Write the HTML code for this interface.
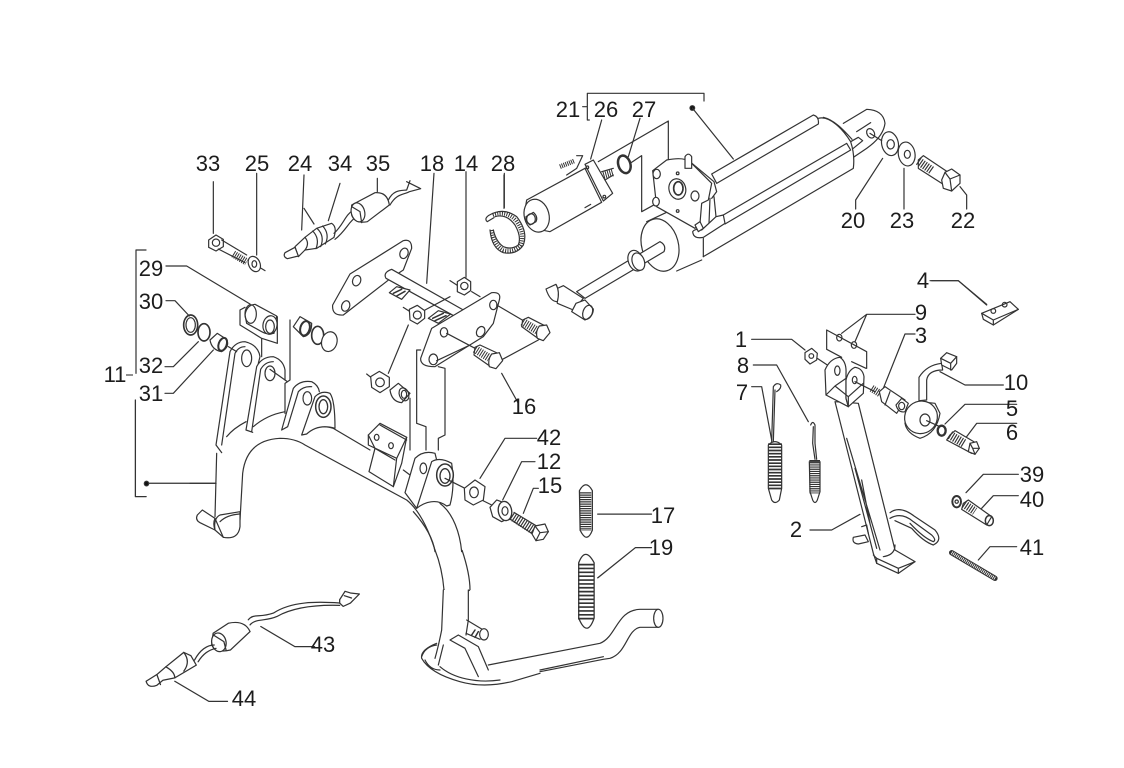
<!DOCTYPE html>
<html><head><meta charset="utf-8"><style>
html,body{margin:0;padding:0;background:#fff}
svg{display:block;filter:blur(.3px)}
text{font-family:"Liberation Sans",sans-serif;font-size:22px;fill:#1c1c1c;text-anchor:middle}
.g{fill:none;stroke:#333;stroke-width:3.6;stroke-linejoin:round;stroke-linecap:round}
.f{fill:#fff}
.h{stroke-linecap:butt}
</style></head><body>
<svg width="1124" height="768" viewBox="0 0 1124 768" xmlns="http://www.w3.org/2000/svg">
<rect width="1124" height="768" fill="#fff"/>

<!-- C2 region: upper left parts -->
<g class="g" transform="translate(130,150) scale(.33333)">
<path d="M250 95V250M380 70V315M522 75L515 240M522 175L552 222M630 100L595 212M742 85V125M912 70L890 400M1008 65V382M1122 75V175"/>
<path d="M48 300H18V670M108 348H170L360 462M108 452H135L178 498M105 650H130L205 575M105 730H130L250 600M1115 670L1165 760M1110 632L1225 570"/>
<!-- bolt 33 -->
<path class="f" d="M236 270L258 255L280 268L280 290L258 303L236 292Z"/><circle cx="258" cy="278" r="11"/>
<path d="M275 270L350 315M265 297L345 338M405 362L360 335"/>
<line class="h" x1="310" y1="312" x2="350" y2="336" stroke-width="22" stroke-dasharray="3 3.5"/>
<ellipse cx="373" cy="342" rx="17" ry="24" transform="rotate(-25 373 342)" class="f"/><ellipse cx="373" cy="342" rx="7" ry="10"/>
<!-- switch 24 -->
<path class="f" d="M495 290L525 262L560 235L605 220Q622 230 612 262L560 295L525 300L505 320Z"/>
<path class="f" d="M465 308L495 292L505 318L472 326Q458 320 465 308Z"/>
<path d="M525 262Q540 280 525 300M548 243Q570 265 558 296M562 236Q585 258 572 290M578 228Q600 252 586 282M612 250C640 225 645 195 670 180M615 268C650 240 655 215 680 200"/>
<!-- connector 35 -->
<path class="f" d="M665 165L735 128Q772 125 778 165L712 215Q675 222 665 195Z"/>
<ellipse cx="684" cy="187" rx="20" ry="29" transform="rotate(-15 684 187)" class="f"/>
<path d="M665 170L690 185L695 218M775 150C790 120 810 122 830 120L840 92M780 165C800 130 820 135 838 125L872 116M830 95L870 115"/>
<!-- plate upper -->
<path class="f" d="M660 372L820 272Q845 265 845 295L820 360L782 385L640 495Q605 498 608 465Z"/>
<ellipse cx="680" cy="392" rx="12" ry="16" transform="rotate(20 680 392)"/><ellipse cx="822" cy="310" rx="12" ry="16" transform="rotate(20 822 310)"/><ellipse cx="647" cy="468" rx="12" ry="16" transform="rotate(20 647 468)"/>
<!-- rod -->
<path class="f" d="M785 358L1000 480L985 505L768 385Q758 368 785 358Z"/>
<path class="f" d="M778 428L800 410L840 420L815 448Z"/><path d="M790 430L815 418M800 438L825 424" stroke-width="4.5"/>
<path class="f" d="M895 505L925 482L962 492L925 520Z"/><path d="M908 505L940 490M915 512L948 497" stroke-width="4.5"/>
<path d="M960 392L985 408M1025 425L1050 440M820 472L840 485M710 672L730 688"/>
<!-- nuts -->
<path class="f" d="M982 395L1003 382L1022 395L1022 422L1003 435L982 425Z"/><circle cx="1003" cy="408" r="11"/>
<path class="f" d="M838 478L862 466L884 482L884 505L862 522L840 510Z"/><circle cx="862" cy="495" r="12"/>
<path class="f" d="M722 680L748 664L778 682L778 710L750 728L725 712Z"/><circle cx="750" cy="697" r="13"/>
<path d="M960 440L885 480M835 525L775 670"/>
<!-- plate lower -->
<path class="f" d="M905 535L1085 428Q1115 425 1108 450L1090 520L1060 560L915 650Q870 650 872 625Z"/>
<ellipse cx="1090" cy="465" rx="11" ry="14"/><ellipse cx="942" cy="547" rx="11" ry="14"/><ellipse cx="910" cy="628" rx="13" ry="16"/><ellipse cx="1052" cy="545" rx="12" ry="16" transform="rotate(25 1052 545)"/>
<path d="M1100 465L1185 515M950 550L1035 595M920 632L1020 585"/>
<!-- bolts 16 -->
<path class="f" d="M1178 510L1195 502L1250 530L1228 568L1175 530Z"/>
<line class="h" x1="1178" y1="515" x2="1222" y2="542" stroke-width="24" stroke-dasharray="3 4"/>
<path class="f" d="M1228 528L1250 525L1260 548L1240 572L1222 565Q1215 545 1228 528Z"/>
<path class="f" d="M1035 592L1050 585L1108 612L1085 652L1032 615Z"/>
<line class="h" x1="1035" y1="597" x2="1078" y2="624" stroke-width="24" stroke-dasharray="3 4"/>
<path class="f" d="M1085 612L1108 608L1118 632L1098 656L1078 650Q1072 630 1085 612Z"/>
<!-- bush -->
<path class="f" d="M780 720L805 700L840 730L815 758Q785 755 780 720Z"/><ellipse cx="822" cy="733" rx="14" ry="20" transform="rotate(-20 822 733)"/><ellipse cx="822" cy="733" rx="8" ry="12"/>
<!-- dashed frames -->
<path d="M840 745V900M860 600V820L888 830V900M872 600H862M925 650L945 655V855L925 865V900"/>
<!-- sleeve 29 -->
<path class="f" d="M345 495Q350 465 375 463L440 498L432 550Q410 555 395 545L350 520Z"/>
<ellipse cx="362" cy="492" rx="17" ry="28"/><ellipse cx="420" cy="525" rx="21" ry="28" transform="rotate(10 420 525)" class="f"/><ellipse cx="420" cy="530" rx="13" ry="20"/>
<path d="M345 472L330 480V525L395 565V620M395 565L442 580V500M480 510V690L465 700V790"/>
<!-- rings left -->
<ellipse cx="182" cy="525" rx="21" ry="30" stroke-width="5"/><ellipse cx="182" cy="525" rx="14" ry="22"/>
<ellipse cx="222" cy="547" rx="18" ry="26" stroke-width="5"/>
<path class="f" d="M240 570L262 550L290 568Q300 590 275 605Q245 600 240 570Z"/><ellipse cx="278" cy="583" rx="12" ry="20" transform="rotate(20 278 583)" stroke-width="6"/>
<path d="M295 590L320 605"/>
<!-- rings right -->
<path class="f" d="M490 530L510 500L545 520Q545 555 520 560Z"/><ellipse cx="525" cy="535" rx="14" ry="22" transform="rotate(15 525 535)" stroke-width="6"/>
<ellipse cx="563" cy="556" rx="18" ry="27" stroke-width="5"/><ellipse cx="598" cy="575" rx="23" ry="30" transform="rotate(15 598 575)" class="f"/>
</g>

<!-- Stand arch + tabs -->
<g class="g" transform="translate(190,330) scale(.33333)">
<path d="M110 320Q130 295 168 275M190 290Q230 255 285 245M345 310Q385 280 430 295"/>
<path d="M95 368L78 345L120 65Q135 35 165 35Q205 45 210 80L205 100M95 345L135 70Q145 50 165 50"/>
<ellipse cx="170" cy="85" rx="15" ry="25" class="f"/>
<path d="M168 300L188 307M168 300L200 110Q215 80 250 80Q280 90 285 120V150M185 305L212 118Q225 95 250 95"/>
<ellipse cx="240" cy="130" rx="15" ry="22" class="f"/><path d="M240 118L292 155"/>
<path d="M80 370L75 560M0 460H78"/>
<path d="M150 570L158 430Q170 330 270 325Q315 325 345 345L650 510Q700 550 735 660"/>
<path class="f" d="M275 300L310 175Q330 150 365 155Q385 165 388 185M275 300L293 290L325 185Q340 168 365 170"/>
<ellipse cx="352" cy="205" rx="13" ry="20" class="f"/>
<path class="f" d="M335 315L375 200Q395 180 420 190Q435 210 435 295Q385 280 350 312Z"/>
<ellipse cx="400" cy="230" rx="23" ry="32" stroke-width="4.5"/><ellipse cx="400" cy="230" rx="13" ry="21" stroke-width="4"/>
<path d="M430 295L540 360M640 420L660 435"/>
<!-- block -->
<path class="f" d="M535 315L570 280L650 322L635 400L610 470L537 425L555 355Z"/>
<path d="M535 315V345L620 385L650 322M570 285L650 330M620 385L610 470M555 355L615 390"/>
<ellipse cx="560" cy="322" rx="7" ry="9"/><ellipse cx="603" cy="347" rx="7" ry="9"/>
<!-- foot -->
<path class="f" d="M22 555L37 540L75 565Q68 580 75 600L30 578Q15 570 22 555Z"/>
<path class="f" d="M75 600Q70 565 90 555L150 545L150 590Q145 630 100 622Z"/>
<path d="M90 575Q110 555 148 552M75 565L100 622"/>
</g>

<!-- Front bracket + hardware 42/12/15 -->
<g class="g" transform="translate(370,420) scale(.33333)">
<path d="M130 275C170 320 190 360 195 395M210 250C250 280 270 340 275 395"/>
<path class="f" d="M105 218L135 115Q160 90 195 100L200 120L140 265Z"/>
<ellipse cx="160" cy="145" rx="10" ry="16"/>
<path class="f" d="M140 265L185 125Q210 110 245 130Q255 200 240 255L230 258C200 235 165 245 140 265Z"/>
<ellipse cx="225" cy="165" rx="25" ry="33" stroke-width="4.5" class="f"/><ellipse cx="225" cy="168" rx="15" ry="22" stroke-width="4"/>
<path d="M225 175L285 205M335 240L365 255M500 55H405L330 175M495 125H455L398 240M505 205H490L460 280"/>
<path class="f" d="M283 205L315 180L345 200L340 240L310 255L285 240Z"/><ellipse cx="312" cy="217" rx="13" ry="16"/>
<path class="f" d="M360 262L380 240L420 255L425 290L395 305L368 290Z"/><ellipse cx="405" cy="273" rx="20" ry="29" transform="rotate(-10 405 273)" class="f" stroke-width="4"/><ellipse cx="405" cy="273" rx="9" ry="13"/>
<path d="M432 277L500 318M420 297L488 342"/>
<line class="h" x1="425" y1="288" x2="495" y2="333" stroke-width="27" stroke-dasharray="3.5 4"/>
<path class="f" d="M495 318L525 312L535 335L520 358L498 362L486 342Z"/><path d="M495 318L510 338L535 335M510 338L498 362"/>
</g>

<!-- Tube between bracket and lever -->
<path d="M435 550C441 565 443 578 444 590M462 550C467 565 470 580 470 590M444 590Q457 598 470 590" fill="none" stroke="#333" stroke-width="1.2"/>

<!-- Lever -->
<g class="g" transform="translate(400,590) scale(.33333)">
<path class="f" d="M130 0L125 120L110 160L60 190L70 220Q110 270 180 280Q250 295 335 275L630 205C680 190 680 120 720 112H780V58H720C650 60 650 140 600 160L265 225L235 170L198 130L205 0Z" stroke="none"/>
<path d="M130 0L125 120Q115 170 105 205M205 0V90L198 135"/>
<path d="M265 225L600 160C650 140 650 60 720 58H775M775 112H720C680 120 680 190 630 205L610 208L420 245M420 240L610 200M420 250L335 275Q250 295 180 275Q90 250 65 205Q60 180 110 160M65 200Q75 170 110 165M75 210Q90 240 120 240M120 230C160 265 230 280 300 270"/>
<ellipse cx="775" cy="85" rx="14" ry="27" class="f"/>
<path d="M130 165L115 225M150 150L175 135L235 170L265 240M150 150L195 175L235 260"/>
<path d="M200 90L250 120M198 130L240 148"/>
<ellipse cx="252" cy="133" rx="13" ry="17" class="f"/><path d="M225 120L215 135M235 125L225 142" stroke-width="4.5"/>
</g>

<!-- C3 : springs, switch 43, leaders -->
<g class="g" transform="translate(130,400) scale(.3584,.3356)">
<path d="M15 0V288H45M45 248H240"/><ellipse cx="46" cy="249" rx="6" ry="7" fill="#111"/>
<path d="M1305 340H1455M1305 530L1410 440H1455M365 675L460 735H515M125 838L220 898H272"/>
<!-- springs -->
<path class="f" d="M1254 270Q1272 235 1290 270V388Q1275 430 1256 388Z"/>
<line class="h" x1="1271" y1="275" x2="1271" y2="390" stroke-width="32" stroke-dasharray="3.5 3.2"/>
<path class="f" d="M1252 485Q1270 435 1295 485V650Q1275 710 1252 650Z"/>
<line class="h" x1="1272" y1="488" x2="1272" y2="655" stroke-width="44" stroke-dasharray="5 6.5"/>
<!-- switch 43 -->
<path d="M330 655C345 635 360 650 400 635C450 600 520 600 585 605M335 670C350 650 380 660 410 645C455 618 520 610 585 612"/>
<path d="M585 595L600 570L615 575L640 578L615 605L595 615L585 605ZM598 583L618 590"/>
<path class="f" d="M232 695L275 665Q320 655 335 690L280 745Q240 755 228 730Z"/>
<ellipse cx="248" cy="722" rx="20" ry="28" transform="rotate(-10 248 722)" class="f"/><path d="M232 700L262 720L268 745"/>
<path d="M235 730C215 730 195 745 180 775M240 740C220 745 205 755 190 780"/>
<path class="f" d="M45 838L75 818L100 795L150 752L170 762L185 790L125 828L92 835L75 850Q50 860 45 838Z"/>
<path d="M75 818L85 848M100 795Q125 810 125 828M150 752Q170 780 150 808"/>
</g>

<!-- Actuator : leaders, cap, rod, motor -->
<g class="g" transform="translate(470,85) scale(.33333)">
<path d="M358 105H352V25H702V48M338 65H352"/><circle cx="667" cy="69" r="7" fill="#111"/>
<path d="M667 69L790 222M395 105L362 222M510 100L475 215M103 265V368"/>
<path d="M1238 220L1157 345V372M1302 250V372M1470 305L1490 330V372M1380 587H1465L1550 660"/>
<path class="f" d="M530 410L590 382L700 470L695 525L620 560Z" stroke="none"/>
<path d="M530 410L590 382M620 558L695 525"/>
<ellipse cx="570" cy="480" rx="55" ry="80" transform="rotate(-15 570 480)" class="f"/>
<path class="f" d="M570 470Q590 480 582 500L345 640L320 620Z"/>
<ellipse cx="497" cy="527" rx="22" ry="32" transform="rotate(-20 497 527)" class="f"/><ellipse cx="505" cy="530" rx="18" ry="27" transform="rotate(-20 505 530)" class="f"/>
<path class="f" d="M258 612L280 602L340 640L310 675L262 655Z"/>
<path class="f" d="M228 612L258 598Q270 620 262 650Q240 650 228 612Z"/>
<path class="f" d="M318 655L345 645L370 672Q370 695 345 705L305 680Z"/><ellipse cx="353" cy="682" rx="14" ry="22" transform="rotate(20 353 682)"/>
<path d="M385 230L595 108V280L625 265M480 235L515 212V380L555 358"/>
<!-- washers / bolt 22 -->
<ellipse cx="1260" cy="176" rx="25" ry="36" transform="rotate(-12 1260 176)" class="f"/><ellipse cx="1262" cy="178" rx="11" ry="14"/>
<ellipse cx="1310" cy="207" rx="25" ry="36" transform="rotate(-10 1310 207)" class="f"/><ellipse cx="1312" cy="208" rx="9" ry="12"/>
<path class="f" d="M1345 225L1360 212L1435 262L1420 298L1345 250Z"/>
<line class="h" x1="1345" y1="228" x2="1388" y2="258" stroke-width="25" stroke-dasharray="3.5 4"/>
<path class="f" d="M1425 262L1445 252L1470 270L1470 295L1445 318L1420 310L1415 285Z"/><path d="M1425 262L1440 282L1470 270M1440 282L1445 318"/>
<!-- o-ring -->
<ellipse cx="463" cy="238" rx="18" ry="27" transform="rotate(-18 463 238)" stroke-width="7.5"/>
<!-- motor -->
<path class="f" d="M170 345L345 250L395 352L240 440Q170 430 165 375Z"/>
<ellipse cx="200" cy="392" rx="37" ry="50" transform="rotate(-15 200 392)" class="f"/>
<path class="f" d="M168 395L190 382Q205 395 198 410L180 420Q165 410 168 395Z"/><ellipse cx="183" cy="402" rx="13" ry="16"/>
<path class="f" d="M345 238L370 225L428 325L400 348Z"/>
<path d="M290 270L320 250L338 212H320M345 368L362 358"/>
<circle cx="352" cy="247" r="4"/><circle cx="403" cy="335" r="4"/>
<path d="M395 260L430 250M405 285L430 270"/>
<line class="h" x1="400" y1="270" x2="428" y2="262" stroke-width="24" stroke-dasharray="3 3.5"/>
<line class="h" x1="270" y1="245" x2="312" y2="228" stroke-width="14" stroke-dasharray="3 3"/>
<!-- ring 28 -->
<path class="h" d="M66 435Q72 480 100 495Q132 503 152 480Q165 445 138 407Q110 375 68 390" stroke-width="12" stroke-dasharray="3 4"/>
<path d="M55 392Q100 365 140 395Q175 440 160 480Q140 510 100 503Q65 490 60 435M75 395Q110 385 135 420Q155 455 145 480Q125 495 100 485Q78 470 70 435M55 392Q42 402 52 410L72 398"/>
</g>

<!-- Barrel + housing -->
<g class="g" transform="translate(640,100) scale(.33333)">
<path class="f" stroke="none" d="M610 70L680 28Q730 30 735 70Q730 110 680 145L640 172L600 130Z"/>
<path d="M610 70L680 28Q730 30 735 70Q730 110 680 145L640 172M650 95L692 68"/>
<ellipse cx="692" cy="100" rx="11" ry="15" transform="rotate(-30 692 100)"/><path d="M690 100L725 122"/>
<path class="f" stroke="none" d="M535 55C570 45 610 90 632 125Q645 165 640 205L190 470L160 395L230 250Z"/>
<path d="M535 55C570 45 610 90 632 125Q645 165 640 205L190 470M550 52C585 60 615 95 636 118"/>
<path class="f" d="M215 222L520 45Q538 50 535 72L230 250Z"/>
<path d="M250 345L620 130M255 372L632 150M620 130L632 150M632 125L655 112L668 122L640 145"/>
<path d="M190 415V470"/>
<!-- housing -->
<path class="f" d="M38 212L80 180Q130 170 150 185L215 250L205 300L185 310L180 370L165 385L50 320Z"/>
<path d="M150 185L222 245L230 275L215 295M210 295L207 370M222 290L228 350"/>
<path class="f" d="M135 205V170Q145 155 155 170V205Z"/>
<path class="f" d="M228 350L250 345L255 370L190 412Q160 418 158 395Q165 385 185 390Z"/>
<ellipse cx="112" cy="267" rx="25" ry="31" transform="rotate(-15 112 267)" class="f"/><ellipse cx="115" cy="265" rx="14" ry="20" stroke-width="5"/>
<ellipse cx="50" cy="222" rx="11" ry="14" class="f"/><ellipse cx="48" cy="305" rx="10" ry="13" class="f"/><ellipse cx="165" cy="288" rx="12" ry="15" class="f"/><circle cx="113" cy="220" r="4"/><circle cx="113" cy="333" r="4"/>
<path class="f" d="M165 375L180 365L190 385L175 395Z"/>
</g>

<!-- Right group -->
<g class="g" transform="translate(720,270) scale(.33333)">
<path d="M635 32H715L800 103M585 133H440L365 190M440 133L405 215M95 208H215L255 240M585 192H555L490 355M100 285H170L265 455M95 350H125L155 510M850 345H735L660 305M890 403H735L675 462M890 460H770L740 500M895 613H790L738 668M895 677H820L785 715M890 830H810L775 870M270 780H335L420 733"/>
<path class="f" d="M785 130L870 95L895 118L820 165L790 148Z"/><path d="M785 130L820 150L895 118M820 150V165"/><circle cx="820" cy="123" r="7"/><circle cx="854" cy="104" r="7"/>
<path d="M320 238V180L440 245V295M320 238L365 262M395 275L438 295"/>
<ellipse cx="358" cy="203" rx="8" ry="10"/><ellipse cx="402" cy="225" rx="8" ry="10"/>
<path class="f" d="M255 248L275 235L292 250L290 270L270 282L255 268Z"/><circle cx="274" cy="258" r="7"/><path d="M292 265L322 285"/>
<path class="f" d="M345 395L460 850L470 880L535 910L585 875L525 840L415 400Z"/>
<path d="M460 855L470 865L535 895L585 875M470 880V865M535 895V910M490 860Q525 855 525 825"/>
<path d="M380 505L480 840M425 630L450 760M405 595L470 835"/>
<path class="f" d="M315 300Q330 265 360 262Q380 275 378 310V385L385 410L318 375Z"/>
<path class="f" d="M378 330Q385 300 405 292Q428 295 432 320L430 370L385 410L378 385Z"/>
<path d="M318 375L345 348L385 380L430 340M345 348L378 325M385 380V410"/>
<ellipse cx="352" cy="302" rx="8" ry="14"/><ellipse cx="404" cy="330" rx="7" ry="11"/>
<path d="M405 335L465 365"/>
<path d="M510 728Q540 705 585 740L645 780Q670 810 640 825Q610 815 575 775L525 752M510 745Q545 725 580 755L635 795Q650 810 640 815Q612 805 570 760"/>
<path d="M400 802L435 795L445 815L415 822Q395 820 400 802ZM425 770L440 765L445 790"/>
<path d="M170 365Q185 355 182 345Q170 335 160 350L155 515M165 360L160 515"/>
<path class="f" d="M145 525Q165 505 185 525V655L178 690Q165 705 155 690L145 655Z"/>
<line class="h" x1="165" y1="520" x2="165" y2="660" stroke-width="42" stroke-dasharray="5 4.5"/>
<path d="M272 465Q278 450 285 465V520L290 568M280 470L278 520L285 568"/>
<path class="f" d="M268 575H300V665L292 690Q285 705 278 690L270 665Z"/>
<line class="h" x1="284" y1="570" x2="284" y2="670" stroke-width="32" stroke-dasharray="3.5 3"/>
<line class="h" x1="455" y1="355" x2="482" y2="372" stroke-width="22" stroke-dasharray="3 3.5"/>
<path class="f" d="M478 365L495 350L555 390L530 430L485 395Z"/><path d="M510 365L495 405"/>
<path class="f" d="M528 405L545 385L565 400L555 425Q535 430 528 405Z"/><ellipse cx="545" cy="408" rx="9" ry="11"/>
<path class="f" d="M555 460Q560 490 600 505Q650 490 660 430L645 400L600 395Q560 420 555 460Z"/>
<ellipse cx="603" cy="442" rx="48" ry="50" class="f" transform="rotate(50 603 442)"/>
<ellipse cx="615" cy="450" rx="15" ry="18"/><path d="M620 452L660 470"/>
<path class="f" d="M597 392V322Q620 285 665 280L668 300Q625 300 620 330V390Z"/>
<path class="f" d="M662 265L680 248L710 260V280L695 300L665 285Z"/><path d="M662 265L692 280L710 260M692 280V300"/>
<ellipse cx="665" cy="482" rx="12" ry="15" stroke-width="7"/>
<path class="f" d="M690 495L705 482L770 520L755 550L680 510Z"/>
<line class="h" x1="690" y1="495" x2="735" y2="522" stroke-width="26" stroke-dasharray="3.5 4"/>
<path class="f" d="M750 520L770 515L778 535L765 553L745 545Z"/><path d="M750 520L758 535L778 535M758 535L765 553"/>
<ellipse cx="710" cy="695" rx="13" ry="17" stroke-width="6"/><circle cx="710" cy="695" r="5"/>
<path class="f" d="M730 700L745 690L815 740L800 765L725 718Z"/>
<line class="h" x1="732" y1="702" x2="765" y2="724" stroke-width="24" stroke-dasharray="3.5 4"/>
<ellipse cx="808" cy="752" rx="12" ry="15" stroke-width="4.5"/>
<path d="M695 848L825 925" stroke-width="16"/>
<path class="h" d="M695 848L825 925" stroke-width="10" stroke="#fff" stroke-dasharray="2.5 3"/>
</g>

<text x="208" y="171">33</text><text x="257" y="171">25</text><text x="300" y="171">24</text><text x="340" y="171">34</text><text x="378" y="171">35</text><text x="432" y="171">18</text><text x="466" y="171">14</text><text x="503" y="171">28</text>
<text x="568" y="117">21</text><text x="606" y="117">26</text><text x="644" y="117">27</text>
<text x="853" y="228">20</text><text x="902" y="228">23</text><text x="963" y="228">22</text>
<text x="923" y="288">4</text><text x="921" y="320">9</text><text x="921" y="343">3</text><text x="741" y="347">1</text><text x="743" y="373">8</text><text x="742" y="400">7</text>
<text x="1016" y="390">10</text><text x="1012" y="416">5</text><text x="1012" y="440">6</text><text x="1032" y="482">39</text><text x="1032" y="507">40</text><text x="1032" y="555">41</text><text x="796" y="537">2</text>
<text x="151" y="276">29</text><text x="151" y="309">30</text><text x="151" y="373">32</text><text x="151" y="401">31</text><text x="115" y="382">11</text><text x="524" y="414">16</text>
<text x="549" y="445">42</text><text x="549" y="469">12</text><text x="550" y="493">15</text><text x="663" y="523">17</text><text x="661" y="555">19</text><text x="323" y="652">43</text><text x="244" y="706">44</text>
<path d="M126 375H133" stroke="#333" stroke-width="1.1" fill="none"/>
</svg>
</body></html>
